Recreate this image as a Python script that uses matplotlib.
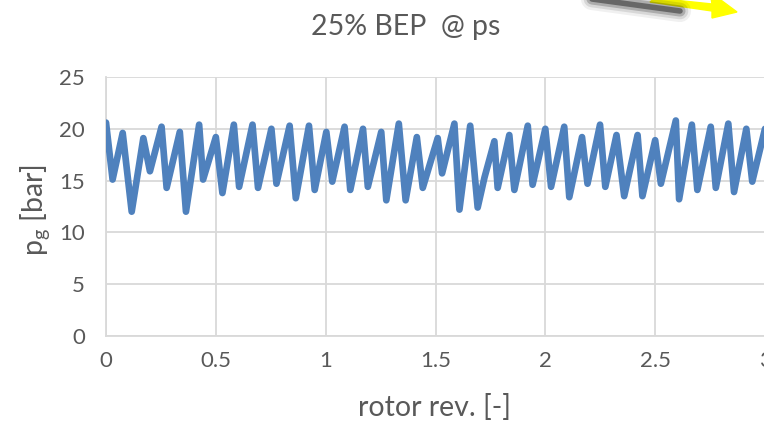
import numpy as np
import matplotlib.pyplot as plt
plt.rcParams.update({'font.size': 16, 'font.family': ['Lato', 'DejaVu Sans']})

# data: rotor revolutions vs gap pressure
rev = [0.000, 0.030, 0.076, 0.117, 0.170, 0.200, 0.253, 0.276, 0.336, 0.364,
       0.424, 0.442, 0.500, 0.530, 0.582, 0.606, 0.667, 0.692, 0.753, 0.776,
       0.836, 0.864, 0.924, 0.950, 1.003, 1.030, 1.086, 1.112, 1.170, 1.192,
       1.253, 1.276, 1.333, 1.364, 1.415, 1.442, 1.510, 1.530, 1.586, 1.609,
       1.658, 1.692, 1.723, 1.768, 1.783, 1.836, 1.859, 1.920, 1.942, 2.000,
       2.026, 2.086, 2.109, 2.167, 2.192, 2.249, 2.273, 2.324, 2.359, 2.420,
       2.442, 2.500, 2.526, 2.594, 2.609, 2.667, 2.692, 2.753, 2.776, 2.833,
       2.859, 2.915, 2.942, 3.000]
p_g = [20.6, 15.1, 19.6, 12.0, 19.1, 15.9, 20.2, 14.3, 19.7, 12.0,
       20.4, 15.1, 19.2, 13.8, 20.4, 14.4, 20.4, 14.3, 20.0, 14.7,
       20.3, 13.3, 20.3, 14.1, 19.7, 14.9, 20.2, 14.1, 20.0, 14.4,
       19.7, 13.1, 20.5, 13.1, 19.2, 14.3, 19.1, 15.7, 20.5, 12.2,
       20.3, 12.4, 15.3, 18.8, 14.3, 19.4, 14.1, 20.3, 14.6, 20.0,
       14.4, 20.2, 13.4, 19.2, 14.7, 20.4, 14.4, 19.4, 13.5, 19.4,
       13.5, 18.9, 14.7, 20.8, 13.2, 20.4, 14.1, 20.2, 14.3, 20.5,
       13.9, 20.0, 14.9, 20.0]

xticks = [0, 0.5, 1, 1.5, 2, 2.5, 3]
xticklabels = ['0', '0.5', '1', '1.5', '2', '2.5', '3']
yticks = [0, 5, 10, 15, 20, 25]

W, H = 764, 424
grey = '#595959'
fig = plt.figure(figsize=(W/100, H/100), dpi=100)
ax = fig.add_axes([106/W, (H-336)/H, 659/W, (336-77)/H])

ax.plot(rev, p_g, color='#4F81BD', linewidth=4.8, solid_joinstyle='round',
        solid_capstyle='round', zorder=3)

ax.set_xlim(0, 3)
ax.set_ylim(0, 25)
ax.set_xticks(xticks)
ax.set_xticklabels(xticklabels)
ax.set_yticks(yticks)
ax.grid(True, color='#D9D9D9', linewidth=1.3)
ax.set_axisbelow(True)
for s in ['top', 'right']:
    ax.spines[s].set_visible(False)
for s in ['left', 'bottom']:
    ax.spines[s].set_color('#D9D9D9')
    ax.spines[s].set_linewidth(1.3)
ax.tick_params(axis='both', length=0, colors=grey, labelsize=16)
ax.tick_params(axis='y', pad=15)
ax.tick_params(axis='x', pad=11)

fig.text(406/W, 1-27/H, '25% BEP  @ ps', ha='center', va='center',
         fontsize=20.5, color=grey)
fig.text(435/W, 1-408/H, 'rotor rev. [-]', ha='center', va='center',
         fontsize=20.5, color=grey)
fig.text(36/W, 1-210/H, r'p$_\mathregular{g}$ [bar]', ha='center', va='center',
         rotation=90, fontsize=20.5, color=grey)

# arrows cut off at the top right
for lw, a in [(16, 0.06), (12, 0.1), (8, 0.2), (4, 0.4)]:
    fig.add_artist(plt.Line2D([570/W, 680/W], [1+4/H, 1-11/H], color='black',
                              linewidth=lw, alpha=a, solid_capstyle='round'))
fig.add_artist(plt.Polygon([[655/W, 1+2/H], [712/W, 1-4/H], [710/W, 1+8/H],
                            [737/W, 1-12/H], [712/W, 1-18/H], [712/W, 1-11/H],
                            [650/W, 1-2/H]], closed=True, color='#FFFF00',
                           transform=fig.transFigure))

fig.savefig('out.png', dpi=100)
